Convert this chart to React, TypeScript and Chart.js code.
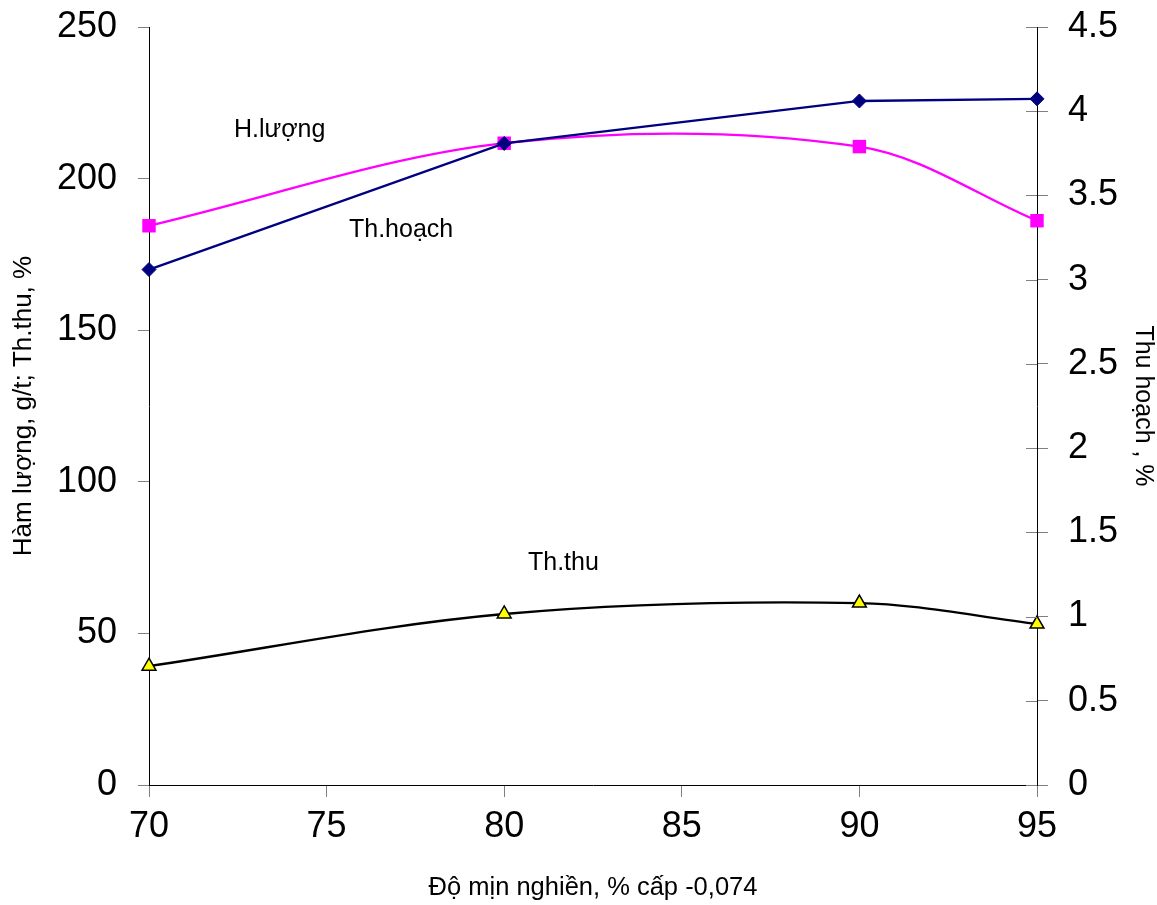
import React, { useEffect, useRef } from 'react';
import { Chart, registerables } from 'chart.js';

Chart.register(...registerables);

// Data
const fineness = [70, 80, 90, 95]; // Độ mịn nghiền, % cấp -0,074
const hamLuong = [170, 211.6, 225.6, 226.3]; // g/t (left axis)
const thuHoach = [3.32, 3.81, 3.79, 3.35]; // % (right axis)
const thuThu = [39.2, 56.4, 60.0, 53.1]; // % (left axis)

// In-chart label annotations (data coordinates on x / left y axis)
const noteTexts = ['H.lượng', 'Th.hoạch', 'Th.thu'];
const noteX = [72.39, 75.63, 80.67];
const noteY = [213.8, 180.8, 70.9];

const FONT = "'Liberation Sans', Arial, sans-serif";

const notesPlugin = {
  id: 'notes',
  afterDraw(chart: any) {
    const { ctx, scales } = chart;
    const x = scales.x;
    const y = scales.y;
    const y1 = scales.y1;
    ctx.save();
    // right axis ticks crossing inward
    ctx.strokeStyle = '#808080';
    ctx.lineWidth = 1;
    y1.ticks.forEach((t: any) => {
      const py = Math.round(y1.getPixelForValue(t.value)) + 0.5;
      ctx.beginPath();
      ctx.moveTo(y1.left - 11, py);
      ctx.lineTo(y1.left, py);
      ctx.stroke();
    });
    ctx.fillStyle = '#000';
    ctx.font = `25px ${FONT}`;
    ctx.textBaseline = 'alphabetic';
    ctx.textAlign = 'left';
    noteTexts.forEach((txt, i) => {
      ctx.fillText(txt, x.getPixelForValue(noteX[i]), y.getPixelForValue(noteY[i]));
    });
    ctx.restore();
  },
};

export default function App() {
  const ref = useRef<HTMLCanvasElement | null>(null);
  useEffect(() => {
    if (!ref.current) return;
    const tickFont = { family: FONT, size: 36 };
    const noPad = (s: any) => {
      s.paddingTop = 0;
      s.paddingBottom = 0;
      s.paddingLeft = 0;
      s.paddingRight = 0;
    };
    const chart = new Chart(ref.current, {
      type: 'line',
      data: {
        datasets: [
          {
            label: 'H.lượng',
            data: fineness.map((f, i) => ({ x: f, y: hamLuong[i] })),
            yAxisID: 'y',
            borderColor: '#000080',
            backgroundColor: '#000080',
            borderWidth: 2.3,
            pointStyle: 'rectRot',
            pointRadius: 7,
            pointBorderWidth: 1,
            pointBorderColor: '#000080',
            pointBackgroundColor: '#000080',
            tension: 0,
            clip: false,
          },
          {
            label: 'Th.hoạch',
            data: fineness.map((f, i) => ({ x: f, y: thuHoach[i] })),
            yAxisID: 'y1',
            borderColor: '#FF00FF',
            backgroundColor: '#FF00FF',
            borderWidth: 2.3,
            pointStyle: 'rect',
            pointRadius: 9.5,
            pointBorderWidth: 0,
            pointBackgroundColor: '#FF00FF',
            tension: 0.333,
            clip: false,
          },
          {
            label: 'Th.thu',
            data: fineness.map((f, i) => ({ x: f, y: thuThu[i] })),
            yAxisID: 'y',
            borderColor: '#000000',
            backgroundColor: '#FFFF00',
            borderWidth: 2.3,
            pointStyle: 'triangle',
            pointRadius: 8,
            pointBorderWidth: 1.5,
            pointBorderColor: '#000000',
            pointBackgroundColor: '#FFFF00',
            tension: 0.333,
            clip: false,
          },
        ],
      },
      options: {
        animation: false,
        responsive: false,
        events: [],
        layout: { padding: { top: 27, left: 0, right: 0, bottom: 0 } },
        plugins: {
          legend: { display: false },
          tooltip: { enabled: false },
        },
        scales: {
          x: {
            type: 'linear',
            min: 70,
            max: 95,
            ticks: { stepSize: 5, font: tickFont, color: '#000', padding: 8 },
            grid: { drawOnChartArea: false, color: '#808080', tickLength: 12 },
            border: { color: '#000', width: 1 },
            title: {
              display: true,
              text: 'Độ mịn nghiền, % cấp -0,074',
              font: { family: FONT, size: 25.5, lineHeight: 1 },
              color: '#000',
              padding: { top: 0, bottom: 4.5 },
            },
            afterFit: (s: any) => { s.height = 120; noPad(s); },
          },
          y: {
            type: 'linear',
            position: 'left',
            min: 0,
            max: 250,
            ticks: { stepSize: 50, font: tickFont, color: '#000', padding: 21 },
            grid: { drawOnChartArea: false, color: '#808080', tickLength: 11 },
            border: { color: '#000', width: 1 },
            title: {
              display: true,
              text: 'Hàm lượng, g/t; Th.thu, %',
              font: { family: FONT, size: 26, lineHeight: 1 },
              color: '#000',
              padding: { top: 10.5, bottom: 0 },
            },
            afterFit: (s: any) => { s.width = 149; noPad(s); },
          },
          y1: {
            type: 'linear',
            position: 'right',
            min: 0,
            max: 4.5,
            ticks: {
              stepSize: 0.5,
              font: tickFont,
              color: '#000',
              padding: 20,
              callback: (v: any) => String(v),
            },
            grid: { drawOnChartArea: false, color: '#808080', tickLength: 11 },
            border: { color: '#000', width: 1 },
            title: {
              display: true,
              text: 'Thu hoạch , %',
              font: { family: FONT, size: 25, lineHeight: 1 },
              color: '#000',
              padding: { top: 1.5, bottom: 0 },
            },
            afterFit: (s: any) => { s.width = 120; noPad(s); },
          },
        },
      },
      plugins: [notesPlugin],
    } as any);
    return () => chart.destroy();
  }, []);
  return (
    <div style={{ position: 'fixed', left: 0, top: 0, width: 1157, height: 905, background: '#fff' }}>
      <canvas ref={ref} width={1157} height={905} style={{ display: 'block' }} />
    </div>
  );
}
